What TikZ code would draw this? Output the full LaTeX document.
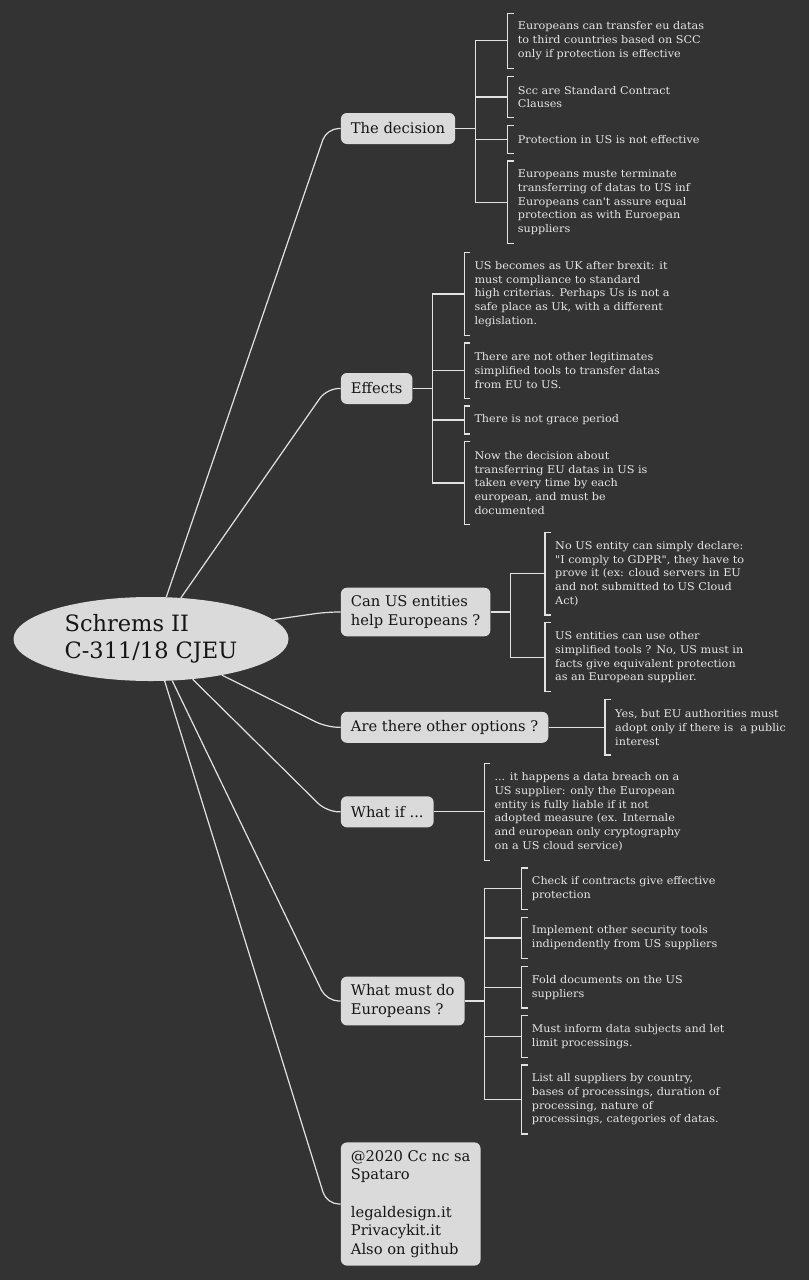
\documentclass[tikz,border=0pt]{standalone}
\usepackage{fontspec}
\setmainfont{DejaVu Serif}
\newfontfamily\leaffam{DejaVu Serif}[FakeStretch=1.06]
\usetikzlibrary{calc,shapes.geometric}
\definecolor{bg}{HTML}{333333}
\definecolor{nodefill}{HTML}{DADADA}
\definecolor{linec}{HTML}{E2E2E2}
\definecolor{leafc}{HTML}{E6E6E6}
\definecolor{nodetext}{HTML}{151515}
\newcommand{\leaffont}{\leaffam\fontsize{10.6}{13.75}\selectfont}
\newcommand{\branchfont}{\fontsize{14.7}{18.6}\selectfont}
\newcommand{\rootfont}{\fontsize{22.5}{27.5}\selectfont}
\begin{document}
\begin{tikzpicture}[x=1pt,y=-1pt,
 conn/.style={draw=linec, line width=1.2pt},
 br/.style={draw=linec, line width=1.2pt},
 branch/.style={anchor=west, fill=nodefill, rounded corners=6pt, inner xsep=10pt, inner ysep=8pt, minimum height=31pt, align=left, font=\branchfont, text=nodetext},
 leaf/.style={anchor=west, inner sep=0pt, align=left, font=\leaffont, text=leafc, minimum height={(#1+1)*13.75pt}},
 rootnode/.style={ellipse, fill=nodefill, minimum width=275pt, minimum height=84pt, inner sep=0pt, align=left, font=\rootfont, text=nodetext}]
\path[use as bounding box, fill=bg] (0,0) rectangle (809,1280);

% root
\node[rootnode] (root) at (151,639) {Schrems II\\C-311/18 CJEU};

% branches
\node[branch] (dec) at (340.7,128.5) {The decision};
\node[branch] (eff) at (340.7,388.5) {Effects};
\node[branch] (can) at (340.7,612) {Can US entities\\help Europeans ?};
\node[branch] (opt) at (340.7,727.3) {Are there other options ?};
\node[branch] (wif) at (340.7,811.8) {What if ...};
\node[branch] (must) at (340.7,1001) {What must do\\Europeans ?};
\node[branch] (foot) at (340.7,1204) {@2020 Cc nc sa\\Spataro\\\mbox{}\\legaldesign.it\\Privacykit.it\\Also on github};

% root connectors
\foreach \a/\n in {70/dec,54/eff,9/can,-27/opt,-44/wif,-63/must,-72/foot}
  \draw[conn, rounded corners=12pt] (root.\a) -- ($(\n.west)+(-14,0)$) -- (\n.west);

% The decision
\node[leaf=3] (d1) at (517.7,40.875) {Europeans can transfer eu datas\\to third countries based on SCC\\only if protection is effective};
\node[leaf=2] (d2) at (517.7,97.0) {Scc are Standard Contract\\Clauses};
\node[leaf=1] (d3) at (517.7,139.375) {Protection in US is not effective};
\node[leaf=5] (d4) at (517.7,202.375) {Europeans muste terminate\\transferring of datas to US inf\\Europeans can't assure equal\\protection as with Euroepan\\suppliers};

% Effects
\node[leaf=5] (e1) at (474.3,294.0) {US becomes as UK after brexit: it\\must compliance to standard\\high criterias. Perhaps Us is not a\\safe place as Uk, with a different\\legislation.};
\node[leaf=3] (e2) at (474.3,370.75) {There are not other legitimates\\simplified tools to transfer datas\\from EU to US.};
\node[leaf=1] (e3) at (474.3,420.0) {There is not grace period};
\node[leaf=5] (e4) at (474.3,483.0) {Now the decision about\\transferring EU datas in US is\\taken every time by each\\european, and must be\\documented};

% Can US
\node[leaf=5] (u1) at (555,573.6) {No US entity can simply declare:\\"I comply to GDPR", they have to\\prove it (ex: cloud servers in EU\\and not submitted to US Cloud\\Act)};
\node[leaf=4] (u2) at (555,657.25) {US entities can use other\\simplified tools ? No, US must in\\facts give equivalent protection\\as an European supplier.};

% Options
\node[leaf=3] (o1) at (615,727.3) {Yes, but EU authorities must\\adopt only if there is\ \ a public\\interest};

% What if
\node[leaf=6] (w1) at (494.3,811.8) {... it happens a data breach on a\\US supplier: only the European\\entity is fully liable if it not\\adopted measure (ex. Internale\\and european only cryptography\\on a US cloud service)};

% What must
\node[leaf=2] (m1) at (531.7,888.75) {Check if contracts give effective\\protection};
\node[leaf=2] (m2) at (531.7,938.0) {Implement other security tools\\indipendently from US suppliers};
\node[leaf=2] (m3) at (531.7,987.25) {Fold documents on the US\\suppliers};
\node[leaf=2] (m4) at (531.7,1036.5) {Must inform data subjects and let\\limit processings.};
\node[leaf=4] (m5) at (531.7,1099.5) {List all suppliers by country,\\bases of processings, duration of\\processing, nature of\\processings, categories of datas.};

% brackets
\foreach \c in {d1,d2,d3,d4,e1,e2,e3,e4,u1,u2,o1,w1,m1,m2,m3,m4,m5}
  \draw[br] ($(\c.north west)+(-4,0)$) -| ($(\c.south west)+(-10,0)$) -- ++(6,0);

% branch to leaf connectors
\foreach \c in {d1,d2,d3,d4}
  \draw[conn] (dec.east) -- ++(20,0) |- ($(\c.west)+(-10,0)$);
\foreach \c in {e1,e2,e3,e4}
  \draw[conn] (eff.east) -- ++(20,0) |- ($(\c.west)+(-10,0)$);
\foreach \c in {u1,u2}
  \draw[conn] (can.east) -- ++(20,0) |- ($(\c.west)+(-10,0)$);
\foreach \c in {m1,m2,m3,m4,m5}
  \draw[conn] (must.east) -- ++(20,0) |- ($(\c.west)+(-10,0)$);
\draw[conn] (opt.east) -- ($(o1.west)+(-10,0)$);
\draw[conn] (wif.east) -- ($(w1.west)+(-10,0)$);
\end{tikzpicture}
\end{document}
